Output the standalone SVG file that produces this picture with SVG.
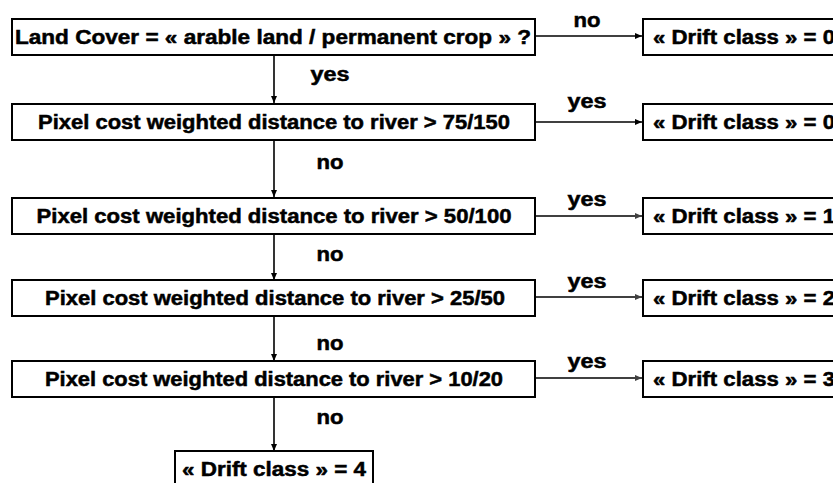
<svg xmlns="http://www.w3.org/2000/svg" width="833" height="483" viewBox="0 0 833 483">
<defs>
<style>
.box{fill:#fff;stroke:#000;stroke-width:2}
.t{font-family:"Liberation Sans",Arial,sans-serif;font-weight:bold;font-size:20px;fill:#000;stroke:#000;stroke-width:0.5}
.c{fill:none;stroke:#000;stroke-width:1.6}
.g{fill:none;stroke:#404040;stroke-width:2}
</style>
<marker id="ah" markerWidth="8" markerHeight="8" refX="7" refY="4" orient="auto" markerUnits="userSpaceOnUse">
<path d="M0,1 L7,4 L0,7 z" fill="#000"/>
</marker>
<marker id="ahg" markerWidth="8" markerHeight="8" refX="7" refY="4" orient="auto" markerUnits="userSpaceOnUse">
<path d="M0,1 L7,4 L0,7 z" fill="#404040"/>
</marker>
</defs>
<rect width="833" height="483" fill="#fff"/>
<g id="connectors">
<line class="c" x1="274" y1="55" x2="274" y2="103" marker-end="url(#ah)"/>
<line class="c" x1="274" y1="140" x2="274" y2="197" marker-end="url(#ah)"/>
<line class="c" x1="274" y1="234" x2="274" y2="280" marker-end="url(#ah)"/>
<line class="c" x1="274" y1="316" x2="274" y2="361" marker-end="url(#ah)"/>
<line class="c" x1="274" y1="397" x2="274" y2="451" marker-end="url(#ah)"/>
<line class="c" x1="536" y1="36" x2="642" y2="36" marker-end="url(#ah)"/>
<line class="c" x1="536" y1="122" x2="642" y2="122" marker-end="url(#ah)"/>
<line class="g" x1="536" y1="216" x2="642" y2="216" marker-end="url(#ahg)"/>
<line class="g" x1="536" y1="297" x2="642" y2="297" marker-end="url(#ahg)"/>
<line class="g" x1="536" y1="378" x2="642" y2="378" marker-end="url(#ahg)"/>
<text class="t" x="330" y="81" text-anchor="middle" textLength="39" lengthAdjust="spacingAndGlyphs">yes</text>
<text class="t" x="330" y="169" text-anchor="middle" textLength="27" lengthAdjust="spacingAndGlyphs">no</text>
<text class="t" x="330" y="261" text-anchor="middle" textLength="27" lengthAdjust="spacingAndGlyphs">no</text>
<text class="t" x="330" y="350" text-anchor="middle" textLength="27" lengthAdjust="spacingAndGlyphs">no</text>
<text class="t" x="330" y="424" text-anchor="middle" textLength="27" lengthAdjust="spacingAndGlyphs">no</text>
<text class="t" x="587" y="27" text-anchor="middle" textLength="27" lengthAdjust="spacingAndGlyphs">no</text>
<text class="t" x="587" y="108" text-anchor="middle" textLength="39" lengthAdjust="spacingAndGlyphs">yes</text>
<text class="t" x="587" y="206" text-anchor="middle" textLength="39" lengthAdjust="spacingAndGlyphs">yes</text>
<text class="t" x="587" y="288" text-anchor="middle" textLength="39" lengthAdjust="spacingAndGlyphs">yes</text>
<text class="t" x="587" y="368" text-anchor="middle" textLength="39" lengthAdjust="spacingAndGlyphs">yes</text>
</g>
<g id="q1"><rect class="box" x="12" y="19" width="523" height="36"/><text class="t" x="273" y="44" text-anchor="middle" textLength="516" lengthAdjust="spacingAndGlyphs">Land Cover = « arable land / permanent crop » ?</text></g>
<g id="q2"><rect class="box" x="12" y="104" width="523" height="36"/><text class="t" x="274" y="129" text-anchor="middle" textLength="472" lengthAdjust="spacingAndGlyphs">Pixel cost weighted distance to river &gt; 75/150</text></g>
<g id="q3"><rect class="box" x="12" y="198" width="523" height="36"/><text class="t" x="274" y="223" text-anchor="middle" textLength="475" lengthAdjust="spacingAndGlyphs">Pixel cost weighted distance to river &gt; 50/100</text></g>
<g id="q4"><rect class="box" x="12" y="280" width="523" height="36"/><text class="t" x="275" y="305" text-anchor="middle" textLength="460" lengthAdjust="spacingAndGlyphs">Pixel cost weighted distance to river &gt; 25/50</text></g>
<g id="q5"><rect class="box" x="12" y="361" width="523" height="36"/><text class="t" x="274" y="386" text-anchor="middle" textLength="458" lengthAdjust="spacingAndGlyphs">Pixel cost weighted distance to river &gt; 10/20</text></g>
<g id="r1"><rect class="box" x="643" y="19" width="240" height="36"/><text class="t" x="653" y="44" textLength="182" lengthAdjust="spacingAndGlyphs">« Drift class » = 0</text></g>
<g id="r2"><rect class="box" x="643" y="104" width="240" height="36"/><text class="t" x="653" y="129" textLength="182" lengthAdjust="spacingAndGlyphs">« Drift class » = 0</text></g>
<g id="r3"><rect class="box" x="643" y="198" width="240" height="36"/><text class="t" x="653" y="223" textLength="182" lengthAdjust="spacingAndGlyphs">« Drift class » = 1</text></g>
<g id="r4"><rect class="box" x="643" y="280" width="240" height="36"/><text class="t" x="653" y="305" textLength="182" lengthAdjust="spacingAndGlyphs">« Drift class » = 2</text></g>
<g id="r5"><rect class="box" x="643" y="361" width="240" height="36"/><text class="t" x="653" y="386" textLength="182" lengthAdjust="spacingAndGlyphs">« Drift class » = 3</text></g>
<g id="r6"><rect class="box" x="175" y="451" width="198" height="40"/><text class="t" x="274" y="476" text-anchor="middle" textLength="184" lengthAdjust="spacingAndGlyphs">« Drift class » = 4</text></g>
</svg>
